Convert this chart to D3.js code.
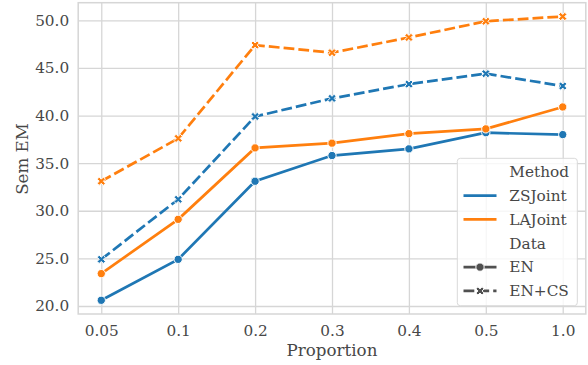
<!DOCTYPE html>
<html>
<head>
<meta charset="utf-8">
<script src="https://cdn.jsdelivr.net/npm/d3@7"></script>
<style>
    body { margin: 0; background: #ffffff; }
    svg { display: block; font-family: "DejaVu Serif", serif; }
</style>
</head>
<body>
<svg id="chart" width="588" height="365"></svg>
<script>
const proportions = ["0.05", "0.1", "0.2", "0.3", "0.4", "0.5", "1.0"];
const yTicks = [20, 25, 30, 35, 40, 45, 50];

const zsJointEN = [20.6, 24.9, 33.1, 35.8, 36.5, 38.2, 38.0];
const zsJointENCS = [24.9, 31.2, 39.9, 41.8, 43.3, 44.4, 43.1];
const laJointEN = [23.4, 29.1, 36.6, 37.1, 38.1, 38.6, 40.9];
const laJointENCS = [33.1, 37.6, 47.4, 46.6, 48.2, 49.9, 50.4];

const methods = ["ZSJoint", "LAJoint"];
const dataKinds = ["EN", "EN+CS"];

const series = [
    { method: "ZSJoint", data: "EN", values: zsJointEN },
    { method: "ZSJoint", data: "EN+CS", values: zsJointENCS },
    { method: "LAJoint", data: "EN", values: laJointEN },
    { method: "LAJoint", data: "EN+CS", values: laJointENCS }
];

const colors = { "ZSJoint": "#1f77b4", "LAJoint": "#ff7f0e" };
const textColor = "#474747";
const gridColor = "#d6d6d6";
const lineWidth = 2.7;
const markerSize = 8.3;

const svg = d3.select("#chart");
const plotLeft = 78.2, plotRight = 585.8, plotTop = 2.7, plotBottom = 314;

const x = d3.scalePoint()
    .domain(proportions)
    .range([plotLeft, plotRight])
    .padding(0.3);

const y = d3.scaleLinear()
    .domain([19.16, 51.85])
    .range([plotBottom, plotTop]);

// grid + ticks
const yAxis = svg.append("g")
    .attr("transform", `translate(${plotLeft},0)`)
    .call(d3.axisLeft(y)
        .tickValues(yTicks)
        .tickFormat(d3.format(".1f"))
        .tickSize(-(plotRight - plotLeft))
        .tickPadding(9));

const xAxis = svg.append("g")
    .attr("transform", `translate(0,${plotBottom})`)
    .call(d3.axisBottom(x)
        .tickSize(-(plotBottom - plotTop))
        .tickPadding(10.8));

[xAxis, yAxis].forEach(ax => {
    ax.select(".domain").remove();
    ax.selectAll(".tick line")
        .attr("stroke", gridColor)
        .attr("stroke-width", 1.3);
    ax.selectAll(".tick text")
        .attr("fill", textColor)
        .style("font-family", "'DejaVu Serif', serif")
        .style("font-size", "15.3px");
});

// frame
svg.append("rect")
    .attr("x", plotLeft)
    .attr("y", plotTop)
    .attr("width", plotRight - plotLeft)
    .attr("height", plotBottom - plotTop)
    .attr("fill", "none")
    .attr("stroke", gridColor)
    .attr("stroke-width", 1.5);

// axis labels
svg.append("text")
    .attr("x", (plotLeft + plotRight) / 2)
    .attr("y", 355.5)
    .attr("text-anchor", "middle")
    .attr("fill", textColor)
    .style("font-size", "16.7px")
    .text("Proportion");

svg.append("text")
    .attr("transform", "translate(28.3,159) rotate(-90)")
    .attr("text-anchor", "middle")
    .attr("fill", textColor)
    .style("font-size", "16.7px")
    .text("Sem EM");

// filled X marker, like matplotlib's "X"
function xMarkerPath(size) {
    const pts = [
        [-0.25, -0.5], [0, -0.25], [0.25, -0.5], [0.5, -0.25],
        [0.25, 0], [0.5, 0.25], [0.25, 0.5], [0, 0.25],
        [-0.25, 0.5], [-0.5, 0.25], [-0.25, 0], [-0.5, -0.25]
    ];
    return "M" + pts.map(p => `${p[0] * size},${p[1] * size}`).join("L") + "Z";
}

function drawMarker(g, cx, cy, kind, color) {
    if (kind === "EN") {
        g.append("circle")
            .attr("cx", cx)
            .attr("cy", cy)
            .attr("r", markerSize / 2)
            .attr("fill", color)
            .attr("stroke", "#ffffff")
            .attr("stroke-width", 1);
    } else {
        g.append("path")
            .attr("d", xMarkerPath(markerSize))
            .attr("transform", `translate(${cx},${cy})`)
            .attr("fill", color)
            .attr("stroke", "#ffffff")
            .attr("stroke-width", 1);
    }
}

const dashFor = kind => kind === "EN" ? null : `${4 * lineWidth},${1.5 * lineWidth}`;

const line = d3.line()
    .x((d, i) => x(proportions[i]))
    .y(d => y(d));

series.forEach(s => {
    const g = svg.append("g");
    g.append("path")
        .datum(s.values)
        .attr("d", line)
        .attr("fill", "none")
        .attr("stroke", colors[s.method])
        .attr("stroke-width", lineWidth)
        .attr("stroke-linecap", "butt")
        .attr("stroke-dasharray", dashFor(s.data));
    s.values.forEach((v, i) => drawMarker(g, x(proportions[i]), y(v), s.data, colors[s.method]));
});

// legend
const legend = svg.append("g");
legend.append("rect")
    .attr("x", 457.3)
    .attr("y", 158.3)
    .attr("width", 120)
    .attr("height", 147.4)
    .attr("rx", 3)
    .attr("fill", "#ffffff")
    .attr("fill-opacity", 0.8)
    .attr("stroke", "#d9d9d9")
    .attr("stroke-width", 1);

const rows = [
    { label: "Method" },
    { label: methods[0], color: colors[methods[0]] },
    { label: methods[1], color: colors[methods[1]] },
    { label: "Data" },
    { label: dataKinds[0], kind: dataKinds[0] },
    { label: dataKinds[1], kind: dataKinds[1] }
];

const handleColor = "#505050";
rows.forEach((r, i) => {
    const cy = 171.7 + i * 23.85;
    const x0 = 463.5, x1 = 496.5;
    if (r.color) {
        legend.append("line")
            .attr("x1", x0).attr("x2", x1)
            .attr("y1", cy).attr("y2", cy)
            .attr("stroke", r.color)
            .attr("stroke-width", lineWidth);
    } else if (r.kind) {
        legend.append("line")
            .attr("x1", x0).attr("x2", x1)
            .attr("y1", cy).attr("y2", cy)
            .attr("stroke", handleColor)
            .attr("stroke-width", lineWidth)
            .attr("stroke-dasharray", dashFor(r.kind));
        drawMarker(legend, (x0 + x1) / 2, cy, r.kind, handleColor);
    }
    legend.append("text")
        .attr("x", 509.3)
        .attr("y", cy + 5.3)
        .attr("fill", textColor)
        .style("font-size", "15.3px")
        .text(r.label);
});
</script>
</body>
</html>
